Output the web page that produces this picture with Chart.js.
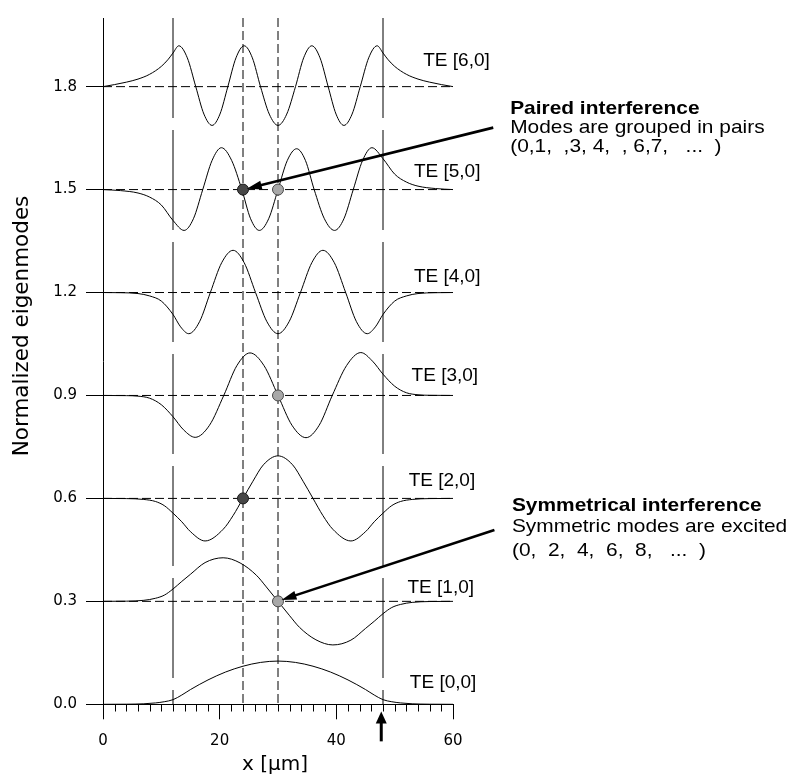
<!DOCTYPE html>
<html>
<head>
<meta charset="utf-8">
<script src="https://cdn.jsdelivr.net/npm/chart.js@4.4.1/dist/chart.umd.min.js"></script>
<style>
html,body{margin:0;padding:0;background:#fff;}
#wrap{width:793px;height:776px;position:relative;}
</style>
</head>
<body>
<div id="wrap"><canvas id="c" width="793" height="776"></canvas></div>
<script>
// ---------------- data ----------------
const modeNames  = ['TE [0,0]', 'TE [1,0]', 'TE [2,0]', 'TE [3,0]', 'TE [4,0]', 'TE [5,0]', 'TE [6,0]'];
const modeLevels = [0, 0.3, 0.6, 0.9, 1.2, 1.5, 1.8];

const te0X = [0, 4, 7, 9, 10.5, 12, 13.5, 15, 18, 21, 24, 27, 30, 33, 36, 39, 42, 45, 46.5, 48, 49.5, 51, 53, 56, 60];
const te0Y = [0, 0.0003, 0.0015, 0.004, 0.0075, 0.0135, 0.027, 0.043, 0.071, 0.094, 0.111, 0.122, 0.126, 0.122, 0.111, 0.094, 0.071, 0.043, 0.027, 0.0135, 0.0075, 0.004, 0.0015, 0.0003, 0];

const te1X = [0, 4, 7, 9, 10.5, 12, 13.5, 15, 17.5, 20.6, 23.5, 26.3, 28, 30, 32, 33.7, 36.5, 39.4, 42.5, 45, 46.5, 48, 49.5, 51, 53, 56, 60];
const te1Y = [0.3, 0.3005, 0.303, 0.309, 0.318, 0.336, 0.358, 0.379, 0.413, 0.427, 0.412, 0.376, 0.342, 0.3, 0.258, 0.224, 0.188, 0.173, 0.187, 0.221, 0.242, 0.264, 0.282, 0.291, 0.297, 0.2995, 0.3];

const te2X = [0, 4, 7, 9, 10.5, 12, 13.5, 15, 17.5, 20.6, 22.3, 24, 25.7, 27.5, 30, 32.5, 34.3, 36, 37.7, 39.4, 42.5, 45, 46.5, 48, 49.5, 51, 53, 56, 60];
const te2Y = [0.6, 0.5995, 0.597, 0.591, 0.579, 0.557, 0.532, 0.503, 0.476, 0.51, 0.55, 0.6, 0.65, 0.698, 0.724, 0.698, 0.65, 0.6, 0.55, 0.51, 0.476, 0.503, 0.532, 0.557, 0.579, 0.591, 0.597, 0.5995, 0.6];

const te3X = [0, 4, 6, 8, 10, 12, 13.8, 15.8, 18.25, 20.7, 22.95, 25.2, 27.6, 30, 32.4, 34.8, 37.05, 39.3, 41.75, 44.2, 46.2, 48, 50, 52, 54, 56, 60];
const te3Y = [0.9, 0.8995, 0.898, 0.892, 0.873, 0.838, 0.8, 0.778, 0.813, 0.9, 0.987, 1.024, 0.987, 0.9, 0.813, 0.777, 0.813, 0.9, 0.987, 1.025, 1.0, 0.962, 0.927, 0.908, 0.902, 0.9005, 0.9];

const te4X = [0, 3, 6, 8, 10, 12, 13.3, 14.7, 16.55, 18.4, 20.35, 22.3, 24.2, 26.15, 28.1, 30, 31.9, 33.85, 35.8, 37.7, 39.65, 41.6, 43.45, 45.3, 46.7, 48, 50, 52, 54, 57, 60];
const te4Y = [1.2, 1.1995, 1.197, 1.19, 1.175, 1.136, 1.1, 1.08, 1.115, 1.2, 1.287, 1.323, 1.287, 1.2, 1.115, 1.08, 1.115, 1.2, 1.287, 1.323, 1.287, 1.2, 1.115, 1.08, 1.1, 1.136, 1.175, 1.19, 1.197, 1.1995, 1.2];

const te5X = [0, 3, 6, 8, 10, 12, 13.9, 15.5, 17.1, 18.7, 20.3, 22.05, 23.8, 25.3, 26.8, 28.4, 30, 31.6, 33.2, 34.7, 36.2, 37.95, 39.7, 41.3, 42.9, 44.5, 46.1, 48, 50, 52, 54, 57, 60];
const te5Y = [1.5, 1.497, 1.49, 1.478, 1.455, 1.41, 1.381, 1.415, 1.5, 1.585, 1.622, 1.585, 1.5, 1.415, 1.381, 1.415, 1.5, 1.585, 1.619, 1.585, 1.5, 1.415, 1.381, 1.415, 1.5, 1.585, 1.622, 1.59, 1.545, 1.522, 1.51, 1.503, 1.5];

const te6X = [0, 2, 4, 6, 8, 10, 11.2, 12, 13.0, 14.45, 15.9, 17.3, 18.7, 20.05, 21.4, 22.8, 24.2, 25.6, 27.0, 28.5, 30, 31.5, 33, 34.4, 35.8, 37.2, 38.6, 39.95, 41.3, 42.7, 44.1, 45.55, 47.0, 48, 48.8, 50, 52, 54, 56, 58, 60];
const te6Y = [1.8, 1.806, 1.813, 1.822, 1.836, 1.859, 1.88, 1.898, 1.919, 1.884, 1.8, 1.72, 1.687, 1.72, 1.8, 1.884, 1.919, 1.884, 1.8, 1.72, 1.687, 1.72, 1.8, 1.884, 1.919, 1.884, 1.8, 1.72, 1.687, 1.72, 1.8, 1.884, 1.919, 1.898, 1.88, 1.859, 1.836, 1.822, 1.813, 1.806, 1.8];

const coreEdgesX     = [12, 48];     // long-dash verticals
const interferenceX  = [24, 30];     // short-dash verticals
const darkDotX  = [24, 24];
const darkDotY  = [1.5, 0.6];
const lightDotX = [30, 30, 30];
const lightDotY = [1.5, 0.9, 0.3];

const yTickValues  = [0, 0.3, 0.6, 0.9, 1.2, 1.5, 1.8];
const xLabelValues = [0, 20, 40, 60];
const xRange = [0, 60];
const yRange = [0, 2.0];

const pairedText    = ['Paired interference', 'Modes are grouped in pairs', '(0,1,  ,3, 4,  , 6,7,   ...  )'];
const symmetricText = ['Symmetrical interference', 'Symmetric modes are excited', '(0,  2,  4,  6,  8,   ...  )'];
const xTitle = 'x [\u00b5m]';
const yTitle = 'Normalized eigenmodes';

// ---------------- layout / style (not data) ----------------
const modeLabelPos = [ // text start (x) and baseline (y) in data units
  [52.6, 0.048], [52.2, 0.323], [52.4, 0.635], [52.9, 0.941], [53.3, 1.232], [53.3, 1.537], [54.9, 1.859]
];
const pairedPos    = {x: 69.8, y: [1.7207, 1.6653, 1.6108]};
const symmetricPos = {x: 70.1, y: [0.5627, 0.5024, 0.4335]};
const arrowDefs = [
  {x0: 66.9, y0: 1.6805, x1: 24.65, y1: 1.5025, lw: 2.6, hl: 15, hw: 4.5},
  {x0: 67.1, y0: 0.5082, x1: 30.6,  y1: 0.3043, lw: 2.6, hl: 15, hw: 4.5},
  {x0: 47.7, y0: -0.108, x1: 47.7,  y1: -0.021, lw: 3,   hl: 12, hw: 5.5}
];

const pts = (xs, ys) => xs.map((x, i) => ({x: x, y: ys[i]}));
const curves = [[te0X, te0Y], [te1X, te1Y], [te2X, te2Y], [te3X, te3Y], [te4X, te4Y], [te5X, te5Y], [te6X, te6Y]];

const datasets = [];
modeLevels.slice(1).forEach(l => datasets.push({
  data: [{x: xRange[0], y: l}, {x: xRange[1], y: l}],
  showLine: true, borderColor: '#000', borderWidth: 1, borderDash: [9, 4], pointRadius: 0, order: 5
}));
coreEdgesX.forEach(v => datasets.push({
  data: [{x: v, y: yRange[1]}, {x: v, y: yRange[0]}],
  showLine: true, borderColor: '#000', borderWidth: 1, borderDash: [100, 12], pointRadius: 0, order: 5
}));
interferenceX.forEach(v => datasets.push({
  data: [{x: v, y: yRange[1]}, {x: v, y: yRange[0]}],
  showLine: true, borderColor: '#000', borderWidth: 1, borderDash: [9, 4], pointRadius: 0, order: 5
}));
curves.forEach((c, i) => datasets.push({
  label: modeNames[i],
  data: pts(c[0], c[1]),
  showLine: true, borderColor: '#000', borderWidth: 1, pointRadius: 0,
  cubicInterpolationMode: 'monotone', order: 3
}));
datasets.push({
  data: pts(darkDotX, darkDotY), showLine: false, pointRadius: 5.5, pointBorderWidth: 1,
  pointBackgroundColor: '#474747', pointBorderColor: '#1a1a1a', order: 1, clip: false
});
datasets.push({
  data: pts(lightDotX, lightDotY), showLine: false, pointRadius: 5.5, pointBorderWidth: 1,
  pointBackgroundColor: '#a8a8a8', pointBorderColor: '#4a4a4a', order: 1, clip: false
});

function drawArrow(ctx, x0, y0, x1, y1, lw, hl, hw) {
  const a = Math.atan2(y1 - y0, x1 - x0);
  const c = Math.cos(a), s = Math.sin(a);
  const bx = x1 - hl * c, by = y1 - hl * s;
  ctx.save();
  ctx.strokeStyle = '#000'; ctx.fillStyle = '#000'; ctx.lineWidth = lw; ctx.lineCap = 'butt';
  ctx.beginPath(); ctx.moveTo(x0, y0); ctx.lineTo(bx + 3 * c, by + 3 * s); ctx.stroke();
  ctx.beginPath(); ctx.moveTo(x1, y1);
  ctx.lineTo(bx - hw * s, by + hw * c);
  ctx.lineTo(bx + hw * s, by - hw * c);
  ctx.closePath(); ctx.fill();
  ctx.restore();
}
function stretchText(ctx, t, x, y, sx) {
  ctx.save(); ctx.translate(x, y); ctx.scale(sx, 1); ctx.fillText(t, 0, 0); ctx.restore();
}

const decor = {
  id: 'decor',
  beforeDraw(chart) {
    const ctx = chart.ctx;
    ctx.save(); ctx.fillStyle = '#fff'; ctx.fillRect(0, 0, chart.width, chart.height); ctx.restore();
  },
  afterDraw(chart) {
    const ctx = chart.ctx, xs = chart.scales.x, ys = chart.scales.y;
    const X = v => xs.getPixelForValue(v), Y = v => ys.getPixelForValue(v);
    // minor x ticks
    ctx.save();
    ctx.strokeStyle = '#000'; ctx.lineWidth = 1;
    const yb = Math.round(ys.getPixelForValue(yRange[0])) + 0.5;
    xs.ticks.forEach(t => {
      if (xLabelValues.indexOf(t.value) === -1) {
        const px = Math.round(X(t.value)) + 0.5;
        ctx.beginPath(); ctx.moveTo(px, yb); ctx.lineTo(px, yb + 7); ctx.stroke();
      }
    });
    ctx.restore();
    // arrows
    arrowDefs.forEach(a => drawArrow(ctx, X(a.x0), Y(a.y0), X(a.x1), Y(a.y1), a.lw, a.hl, a.hw));
    // mode labels
    ctx.save();
    ctx.fillStyle = '#000'; ctx.textAlign = 'left'; ctx.textBaseline = 'alphabetic';
    ctx.font = '19px "Liberation Sans", Arial, sans-serif';
    modeNames.forEach((n, i) => ctx.fillText(n, X(modeLabelPos[i][0]), Y(modeLabelPos[i][1])));
    // annotation blocks
    const blocks = [[pairedText, pairedPos], [symmetricText, symmetricPos]];
    blocks.forEach(b => {
      b[0].forEach((t, j) => {
        ctx.font = (j === 0 ? 'bold ' : '') + '19px "Liberation Sans", Arial, sans-serif';
        stretchText(ctx, t, X(b[1].x), Y(b[1].y[j]), 1.1);
      });
    });
    // axis titles
    ctx.font = '20px "DejaVu Sans", sans-serif';
    ctx.textAlign = 'center';
    ctx.fillText(xTitle, 275, 770);
    ctx.translate(22, 326);
    ctx.rotate(-Math.PI / 2);
    ctx.textBaseline = 'middle';
    ctx.font = '21.5px "DejaVu Sans", sans-serif';
    ctx.fillText(yTitle, 0, 0);
    ctx.restore();
  }
};

new Chart(document.getElementById('c'), {
  type: 'scatter',
  data: {datasets: datasets},
  plugins: [decor],
  options: {
    responsive: false,
    devicePixelRatio: 1,
    animation: false,
    events: [],
    layout: {padding: {left: 0, right: 340, top: 7.7, bottom: 0}},
    plugins: {legend: {display: false}, tooltip: {enabled: false}},
    scales: {
      x: {
        type: 'linear', min: xRange[0], max: xRange[1],
        ticks: {
          stepSize: 2, autoSkip: false, maxRotation: 0, padding: 13, color: '#000',
          font: {family: '"DejaVu Sans", sans-serif', size: 15},
          callback: v => (xLabelValues.indexOf(v) !== -1 ? String(v) : '')
        },
        grid: {
          drawOnChartArea: false, drawTicks: true, tickLength: 15, tickWidth: 1,
          tickColor: c => (c.tick && xLabelValues.indexOf(c.tick.value) !== -1 ? '#000' : 'rgba(0,0,0,0)')
        },
        border: {display: true, color: '#000', width: 1},
        afterFit: s => { s.height = 71.7; }
      },
      y: {
        type: 'linear', min: yRange[0], max: yRange[1],
        afterBuildTicks: s => { s.ticks = yTickValues.map(v => ({value: v})); },
        ticks: {
          padding: 9, color: '#000',
          font: {family: '"DejaVu Sans", sans-serif', size: 15},
          callback: v => Number(v).toFixed(1)
        },
        grid: {drawOnChartArea: false, drawTicks: true, tickLength: 17, tickColor: '#000', tickWidth: 1},
        border: {display: true, color: '#000', width: 1},
        afterFit: s => { s.width = 103; }
      }
    }
  }
});
</script>
</body>
</html>
